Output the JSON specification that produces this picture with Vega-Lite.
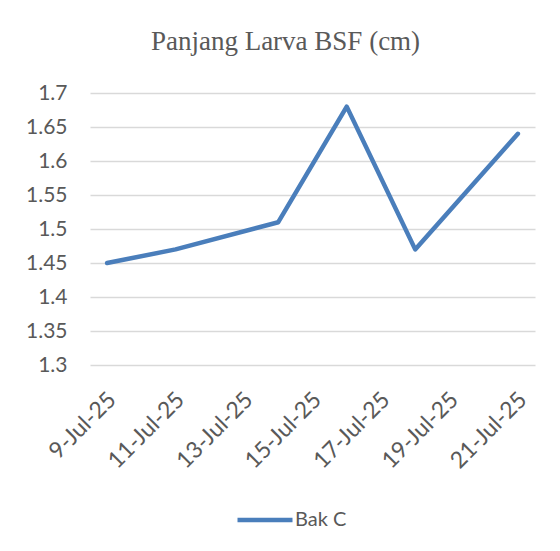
{
  "$schema": "https://vega.github.io/schema/vega-lite/v6.json",
  "width": 445,
  "height": 272,
  "autosize": {"type": "none"},
  "padding": {"left": 90, "top": 93, "right": 25, "bottom": 186},
  "background": "white",
  "title": {
    "text": "Panjang Larva BSF (cm)",
    "font": "Liberation Serif",
    "fontSize": 27,
    "fontWeight": "normal",
    "color": "#595959",
    "offset": 26,
    "dx": -27,
    "anchor": "middle"
  },
  "config": {"view": {"stroke": null}},
  "data": {
    "values": [
      {"date": "2025-07-09T00:00:00", "length": 1.45, "series": "Bak C"},
      {"date": "2025-07-11T00:00:00", "length": 1.47, "series": "Bak C"},
      {"date": "2025-07-14T00:00:00", "length": 1.51, "series": "Bak C"},
      {"date": "2025-07-16T00:00:00", "length": 1.68, "series": "Bak C"},
      {"date": "2025-07-18T00:00:00", "length": 1.47, "series": "Bak C"},
      {"date": "2025-07-21T00:00:00", "length": 1.64, "series": "Bak C"}
    ]
  },
  "mark": {"type": "line", "strokeWidth": 4.5, "strokeCap": "round", "strokeJoin": "round"},
  "encoding": {
    "x": {
      "field": "date",
      "type": "temporal",
      "scale": {"domain": ["2025-07-08T12:00:00", "2025-07-21T12:00:00"]},
      "axis": {
        "title": null,
        "values": ["2025-07-09T00:00:00", "2025-07-11T00:00:00", "2025-07-13T00:00:00", "2025-07-15T00:00:00", "2025-07-17T00:00:00", "2025-07-19T00:00:00", "2025-07-21T00:00:00"],
        "format": "%-d-%b-%y",
        "domain": false,
        "ticks": false,
        "tickSize": 0,
        "grid": false,
        "labelAngle": -45,
        "labelAlign": "right",
        "labelBaseline": "top",
        "labelPadding": 23,
        "labelOffset": -3,
        "labelFont": "Lato",
        "labelFontSize": 23,
        "labelColor": "#595959",
        "labelOverlap": false
      }
    },
    "y": {
      "field": "length",
      "type": "quantitative",
      "scale": {"domain": [1.3, 1.7], "nice": false, "zero": false},
      "axis": {
        "title": null,
        "values": [1.3, 1.35, 1.4, 1.45, 1.5, 1.55, 1.6, 1.65, 1.7],
        "format": "~g",
        "domain": false,
        "ticks": false,
        "tickSize": 0,
        "labelPadding": 23,
        "labelFont": "Lato",
        "labelFontSize": 21,
        "labelColor": "#595959",
        "gridColor": "#D9D9D9",
        "gridWidth": 1.3
      }
    },
    "color": {
      "field": "series",
      "type": "nominal",
      "scale": {"range": ["#4A7EBB"]},
      "legend": {
        "title": null,
        "orient": "none",
        "legendX": 145,
        "legendY": 397,
        "symbolType": "stroke",
        "symbolSize": 3025,
        "symbolStrokeWidth": 4.5,
        "labelFont": "Lato",
        "labelFontSize": 20,
        "labelColor": "#595959",
        "labelOffset": 0
      }
    }
  }
}
